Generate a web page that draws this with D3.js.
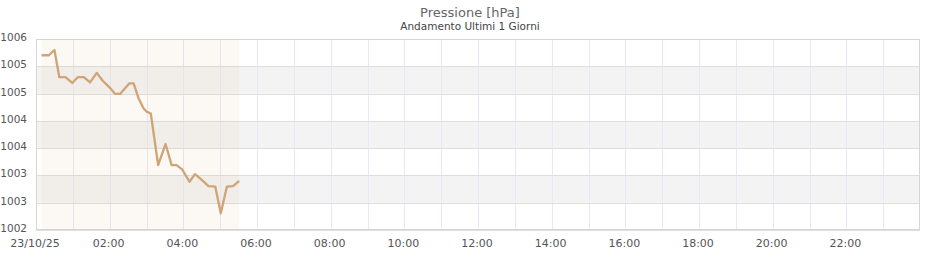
<!DOCTYPE html>
<html>
<head>
<meta charset="utf-8">
<script src="https://cdn.jsdelivr.net/npm/d3@7"></script>
<style>
  body { margin: 0; background: #fff; }
  svg { display: block; font-family: "DejaVu Sans", sans-serif; }
</style>
</head>
<body>
<div id="chart"></div>
<script>
// data
const times = ["00:09","00:21","00:30","00:38","00:48","00:59","01:08","01:18","01:28","01:39",
  "01:49","02:01","02:09","02:17","02:25","02:32","02:39","02:47","02:55","03:00",
  "03:07","03:19","03:31","03:41","03:49","03:58","04:10","04:19","04:30","04:41",
  "04:52","05:01","05:11","05:21","05:31"];
const pressure = [1005.66,1005.66,1005.77,1005.20,1005.20,1005.08,1005.20,1005.20,1005.09,1005.29,
  1005.12,1004.97,1004.85,1004.85,1004.97,1005.07,1005.07,1004.76,1004.55,1004.48,
  1004.44,1003.36,1003.80,1003.36,1003.36,1003.27,1003.01,1003.17,1003.05,1002.92,
  1002.91,1002.35,1002.91,1002.92,1003.03];
const yTickLabels = ["1002","1003","1003","1004","1004","1005","1005","1006"];
const xTickLabels = ["23/10/25","02:00","04:00","06:00","08:00","10:00","12:00","14:00","16:00","18:00","20:00","22:00"];

////////////////////////////  Init  ///////////////////////////////
const width = 940, height = 260;
const margin = { top: 39, right: 20, bottom: 30, left: 36 };

const svg = d3.select("#chart").append("svg")
  .attr("width", width).attr("height", height);

const parseTime = d3.timeParse("%Y-%m-%d %H:%M");
const day0 = parseTime("2025-10-23 00:00");
const day1 = d3.timeDay.offset(day0, 1);
const data = times.map((t, i) => ({ date: parseTime("2025-10-23 " + t), value: pressure[i] }));

const xScale = d3.scaleTime().domain([day0, day1]).range([margin.left, width - margin.right]);
const yScale = d3.scaleLinear().domain([1002, 1006]).range([height - margin.bottom, margin.top]);

const yTicks = d3.range(yTickLabels.length).map(i => 1002 + i * 4 / (yTickLabels.length - 1));

// alternating bands
svg.append("g").selectAll("rect")
  .data(d3.range(yTicks.length - 1).filter(i => i % 2 === 1))
  .enter().append("rect")
  .attr("x", margin.left)
  .attr("width", width - margin.right - margin.left)
  .attr("y", i => yScale(yTicks[i + 1]))
  .attr("height", i => yScale(yTicks[i]) - yScale(yTicks[i + 1]))
  .attr("fill", "#f3f3f3");

// vertical grid (every hour)
const hours = d3.timeHour.range(d3.timeHour.offset(day0, 1), day1);
svg.append("g").selectAll("line")
  .data(hours).enter().append("line")
  .attr("x1", d => Math.round(xScale(d)) + 0.5).attr("x2", d => Math.round(xScale(d)) + 0.5)
  .attr("y1", margin.top).attr("y2", height - margin.bottom)
  .attr("stroke", "#e9e9f6");

// horizontal grid
svg.append("g").selectAll("line")
  .data(yTicks).enter().append("line")
  .attr("x1", margin.left).attr("x2", width - margin.right)
  .attr("y1", d => Math.round(yScale(d)) + 0.5).attr("y2", d => Math.round(yScale(d)) + 0.5)
  .attr("stroke", "#dedede");

// border
svg.append("rect")
  .attr("x", margin.left + 0.5).attr("y", margin.top + 0.5)
  .attr("width", width - margin.right - margin.left - 1)
  .attr("height", height - margin.bottom - margin.top - 1)
  .attr("fill", "none").attr("stroke", "#d6d6d6");

// area + line
const area = d3.area().x(d => xScale(d.date)).y0(yScale(1002)).y1(yScale(1006));
svg.append("path").datum(data)
  .attr("d", area)
  .attr("fill", "rgba(215,165,120,0.08)");

const line = d3.line().x(d => xScale(d.date)).y(d => yScale(d.value));
svg.append("path").datum(data)
  .attr("d", line)
  .attr("fill", "none")
  .attr("stroke", "#cfa476")
  .attr("stroke-width", 2.3)
  .attr("stroke-linejoin", "round");

// axes labels
svg.append("g").selectAll("text")
  .data(yTicks).enter().append("text")
  .attr("x", 27).attr("y", d => yScale(d) + 2)
  .attr("text-anchor", "end")
  .attr("font-size", 10.5).attr("fill", "#555")
  .text((d, i) => yTickLabels[i]);

const xTicks = d3.timeHour.every(2).range(day0, day1);
svg.append("g").selectAll("text")
  .data(xTicks).enter().append("text")
  .attr("x", d => xScale(d) - 1).attr("y", 247)
  .attr("text-anchor", "middle")
  .attr("font-size", 11).attr("fill", "#555")
  .text((d, i) => xTickLabels[i]);

// titles
svg.append("text").attr("x", 470).attr("y", 17)
  .attr("text-anchor", "middle").attr("font-size", 13).attr("fill", "#666")
  .text("Pressione [hPa]");
svg.append("text").attr("x", 470).attr("y", 30)
  .attr("text-anchor", "middle").attr("font-size", 10.5).attr("fill", "#444")
  .text("Andamento Ultimi 1 Giorni");
</script>
</body>
</html>
